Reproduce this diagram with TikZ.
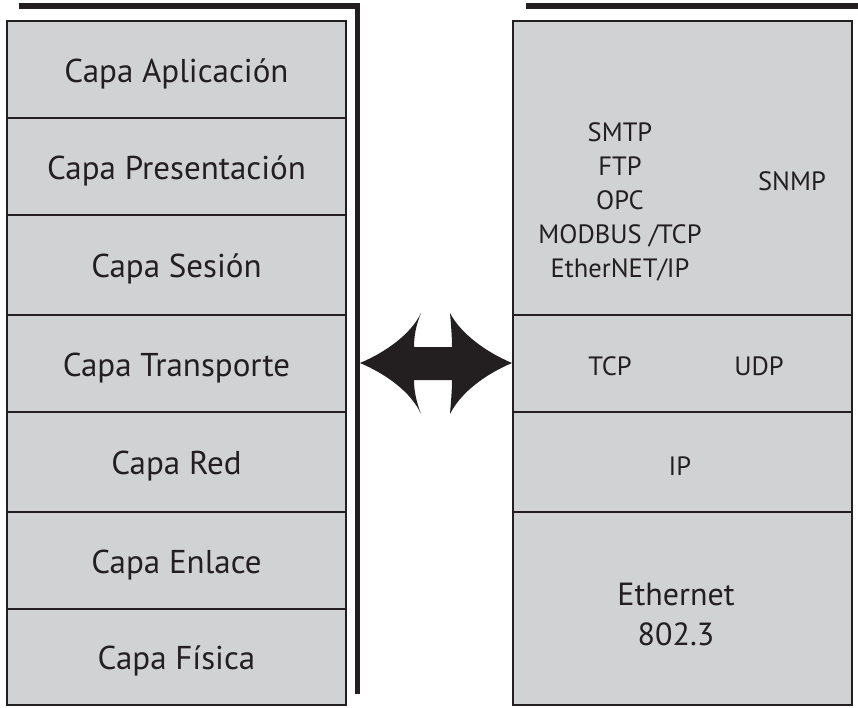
\documentclass[tikz,border=0pt]{standalone}
\usepackage{fontspec}
\setmainfont{PT Sans}
\definecolor{fillcol}{HTML}{D1D2D4}
\definecolor{linecol}{HTML}{231F20}
\begin{document}
\begin{tikzpicture}[x=1pt,y=-1pt,
  layer/.style={draw=linecol, fill=fillcol, line width=2.4pt, inner sep=0pt, outer sep=0pt, text=linecol},
  lefttxt/.style={font=\fontsize{33}{36}\selectfont, text height=31pt, text depth=6pt},
  righttxt/.style={font=\fontsize{26.5}{34}\selectfont, text=linecol, align=center},
  heavy/.style={draw=linecol, line width=5.5pt}]
\useasboundingbox (0,0) rectangle (858,707);
% left stack
\node[layer, lefttxt, minimum width=339pt, minimum height=97pt] (apl) at (176.5,69.5) {Capa Aplicación};
\node[layer, lefttxt, minimum width=339pt, minimum height=97pt] (pre) at (176.5,166.5) {Capa Presentación};
\node[layer, lefttxt, minimum width=339pt, minimum height=100pt] (ses) at (176.5,265) {Capa Sesión};
\node[layer, lefttxt, minimum width=339pt, minimum height=97pt] (tra) at (176.5,363.5) {Capa Transporte};
\node[layer, lefttxt, minimum width=339pt, minimum height=100pt] (red) at (176.5,462) {Capa Red};
\node[layer, lefttxt, minimum width=339pt, minimum height=97pt] (enl) at (176.5,560.5) {Capa Enlace};
\node[layer, lefttxt, minimum width=339pt, minimum height=96pt] (fis) at (176.5,657) {Capa Física};
% right stack
\node[layer, minimum width=339pt, minimum height=294pt] (app) at (682.5,168) {};
\node[layer, minimum width=339pt, minimum height=97pt] (trn) at (682.5,363.5) {};
\node[layer, minimum width=339pt, minimum height=100pt] (net) at (682.5,462) {};
\node[layer, minimum width=339pt, minimum height=193pt] (eth) at (682.5,608.5) {};
\node[righttxt] (prot) at (620,202) {SMTP\\FTP\\OPC\\MODBUS /TCP\\EtherNET/IP};
\node[righttxt] (snmp) at (792,181) {SNMP};
\node[righttxt, font=\fontsize{26.5}{30}\selectfont] (tcp) at (610,366) {TCP};
\node[righttxt, font=\fontsize{26.5}{30}\selectfont] (udp) at (759,366) {UDP};
\node[righttxt, font=\fontsize{26.5}{30}\selectfont] (ip) at (680,466) {IP};
\node[righttxt, font=\fontsize{32}{40}\selectfont] (ethtxt) at (676,614) {Ethernet\\802.3};
% heavy brackets
\coordinate (lt) at (19,5.8);
\coordinate (lc) at (357.5,5.8);
\coordinate (lb) at (357.5,694);
\draw[heavy] (lt) -- (lc) -- (lb);
\coordinate (rt) at (526,5.8);
\coordinate (re) at (858,5.8);
\draw[heavy] (rt) -- (re);
% double arrow
\fill[linecol] (360,363)
  .. controls (386,352) and (411,334) .. (421,313)
  .. controls (416,325) and (414,336) .. (414,347)
  -- (452,347)
  .. controls (452,336) and (451,325) .. (450,313)
  .. controls (461,334) and (486,352) .. (512,363)
  .. controls (486,374) and (461,392) .. (450,414)
  .. controls (451,401) and (452,390) .. (452,380)
  -- (414,380)
  .. controls (414,390) and (416,401) .. (421,414)
  .. controls (411,392) and (386,374) .. (360,363) -- cycle;
\end{tikzpicture}
\end{document}
